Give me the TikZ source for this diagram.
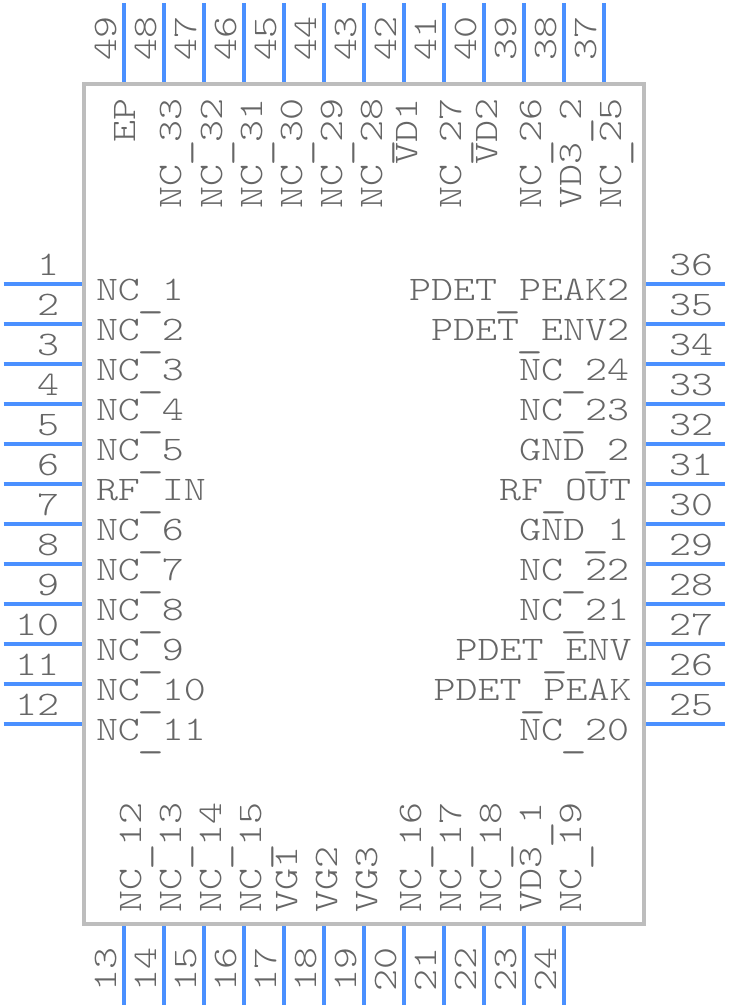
\documentclass[tikz,border=0pt]{standalone}
\usepackage{fontspec}
\newfontfamily\pinfont{Latin Modern Mono Light}[FakeStretch=1.218]
\newcommand\lowus{\makebox[22pt][c]{\raisebox{-5.5pt}{\scalebox{1.22}[1.2]{\_}}}}
\definecolor{bodygray}{HTML}{BDBDBD}
\definecolor{pinblue}{HTML}{4A90FF}
\definecolor{txtgray}{HTML}{666666}
\tikzset{
  bodybox/.style={draw=bodygray,line width=4pt,fill=white},
  pinline/.style={draw=pinblue,line width=4pt},
  lab/.style={inner sep=0pt,outer sep=0pt,text=txtgray,font=\pinfont\fontsize{34.4}{34.4}\selectfont},
}
\begin{document}
\begin{tikzpicture}[x=1pt,y=-1pt]
\useasboundingbox (0,0) rectangle (728,1008);
\path[bodybox] (84,84) rectangle (644,924);
% left pins
\foreach \n/\lbl [count=\i from 0] in {1/NC\lowus 1,2/NC\lowus 2,3/NC\lowus 3,4/NC\lowus 4,5/NC\lowus 5,6/RF\lowus IN,7/NC\lowus 6,8/NC\lowus 7,9/NC\lowus 8,10/NC\lowus 9,11/NC\lowus 10,12/NC\lowus 11}{
  \pgfmathsetmacro\yy{284+40*\i}
  \coordinate (pa\n) at (3.5,\yy);
  \coordinate (pb\n) at (82,\yy);
  \draw[pinline] (pa\n) -- (pb\n);
  \node[lab,anchor=base east] (num\n) at (59,\yy-8.5) {\n};
  \node[lab,anchor=base west] (txt\n) at (96,\yy+16.5) {\lbl};
}
% right pins
\foreach \n/\lbl/\rx [count=\i from 0] in {36/PDET\lowus PEAK2/629,35/PDET\lowus ENV2/629,34/NC\lowus 24/629,33/NC\lowus 23/629,32/GND\lowus 2/629,31/RF\lowus OUT/631,30/GND\lowus 1/629,29/NC\lowus 22/629,28/NC\lowus 21/629,27/PDET\lowus ENV/631.5,26/PDET\lowus PEAK/631.5,25/NC\lowus 20/629}{
  \pgfmathsetmacro\yy{284+40*\i}
  \coordinate (pa\n) at (724.5,\yy);
  \coordinate (pb\n) at (646,\yy);
  \draw[pinline] (pa\n) -- (pb\n);
  \node[lab,anchor=base west] (num\n) at (669,\yy-8.5) {\n};
  \node[lab,anchor=base east] (txt\n) at (\rx,\yy+16.5) {\lbl};
}
% top pins
\foreach \n/\lbl/\bx [count=\i from 0] in {49/EP/135,48/NC\lowus 33/181,47/NC\lowus 32/222,46/NC\lowus 31/262,45/NC\lowus 30/302,44/NC\lowus 29/342,43/NC\lowus 28/382,42/VD1/417,41/NC\lowus 27/461,40/VD2/497,39/NC\lowus 26/541,38/VD3\lowus 2/581,37/NC\lowus 25/621}{
  \pgfmathsetmacro\xx{124+40*\i}
  \coordinate (pa\n) at (\xx,3.5);
  \coordinate (pb\n) at (\xx,82);
  \draw[pinline] (pa\n) -- (pb\n);
  \node[lab,rotate=90,anchor=base west] (num\n) at (\xx-8,61) {\n};
  \node[lab,rotate=90,anchor=base east] (txt\n) at (\bx,98.5) {\lbl};
}
% bottom pins
\foreach \n/\lbl/\bx [count=\i from 0] in {13/NC\lowus 12/141,14/NC\lowus 13/181,15/NC\lowus 14/221,16/NC\lowus 15/261,17/VG1/297,18/VG2/337,19/VG3/377,20/NC\lowus 16/421,21/NC\lowus 17/461,22/NC\lowus 18/501,23/VD3\lowus 1/541,24/NC\lowus 19/581}{
  \pgfmathsetmacro\xx{124+40*\i}
  \coordinate (pa\n) at (\xx,1004.5);
  \coordinate (pb\n) at (\xx,926);
  \draw[pinline] (pa\n) -- (pb\n);
  \node[lab,rotate=90,anchor=base west] (num\n) at (\xx-8,991) {\n};
  \node[lab,rotate=90,anchor=base west] (txt\n) at (\bx,912) {\lbl};
}
\end{tikzpicture}
\end{document}
